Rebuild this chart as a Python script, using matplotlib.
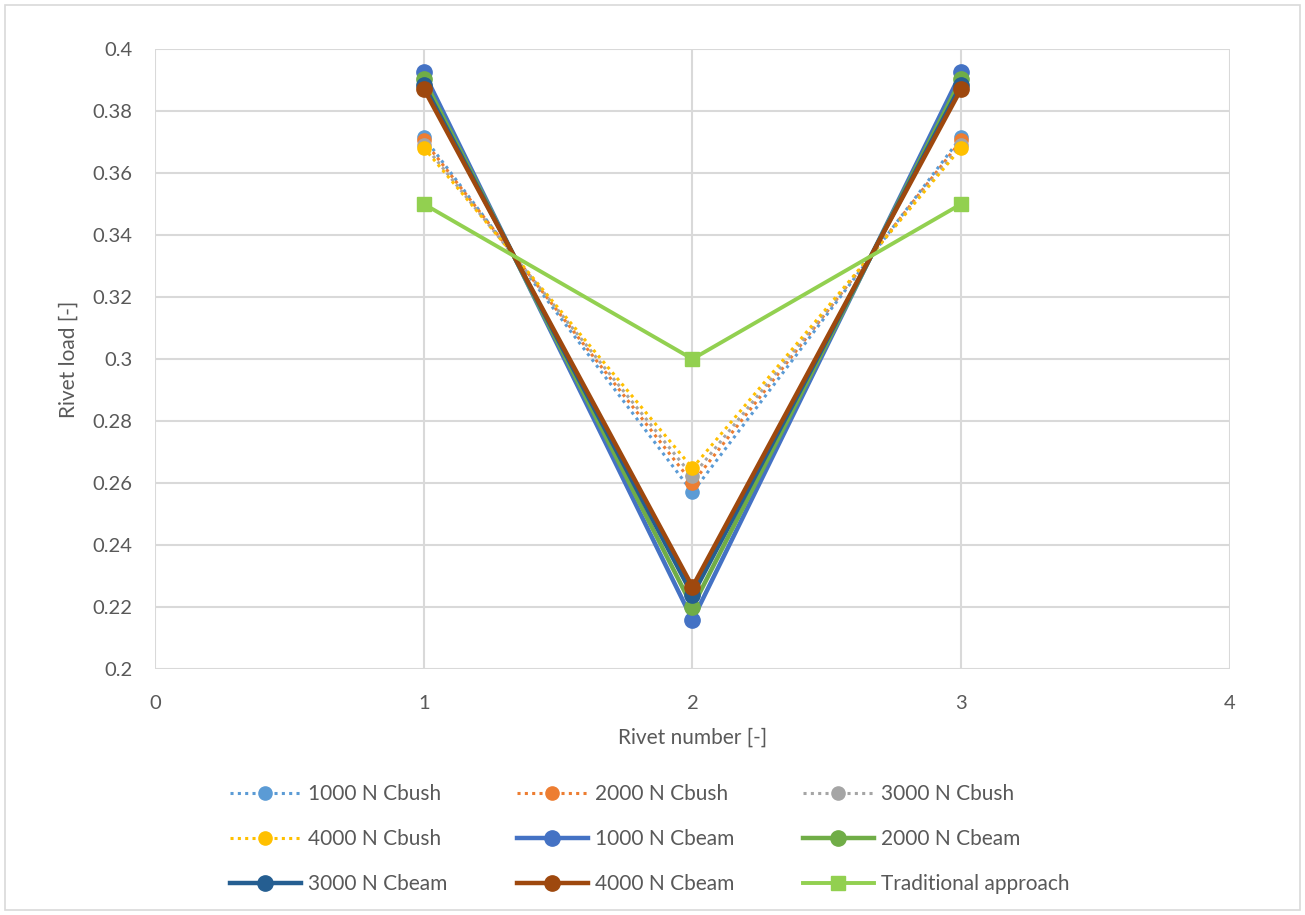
import matplotlib.pyplot as plt
from matplotlib.patches import Rectangle

plt.rcParams['font.family'] = ['Lato', 'DejaVu Sans']

# Data
rivets = [1, 2, 3]
bush_1000 = [0.3716, 0.2570, 0.3716]
bush_2000 = [0.3705, 0.2600, 0.3705]
bush_3000 = [0.3692, 0.2622, 0.3692]
bush_4000 = [0.3682, 0.2648, 0.3682]
beam_1000 = [0.3925, 0.2158, 0.3925]
beam_2000 = [0.3903, 0.2200, 0.3903]
beam_3000 = [0.3885, 0.2238, 0.3885]
beam_4000 = [0.3872, 0.2265, 0.3872]
traditional = [0.35, 0.30, 0.35]

fig = plt.figure(figsize=(13.05, 9.15), dpi=100)
ax = fig.add_axes([0.1188, 0.2689, 0.8237, 0.6775])

text_col = '#595959'
grid_col = '#d9d9d9'

# Cbush series (dotted)
bush = [(bush_1000, '#5b9bd5', '1000 N Cbush'),
        (bush_2000, '#ed7d31', '2000 N Cbush'),
        (bush_3000, '#a5a5a5', '3000 N Cbush'),
        (bush_4000, '#ffc000', '4000 N Cbush')]
handles = []
for vals, c, lab in bush:
    h, = ax.plot(rivets, vals, color=c, lw=2.2, ls=(0, (1, 1.4)), marker='o',
                 ms=9.5, mec=c, mfc=c, label=lab, zorder=3)
    handles.append(h)

# Cbeam series (solid)
beam = [(beam_1000, '#4472c4', '1000 N Cbeam'),
        (beam_2000, '#70ad47', '2000 N Cbeam'),
        (beam_3000, '#255e91', '3000 N Cbeam'),
        (beam_4000, '#9e480e', '4000 N Cbeam')]
for vals, c, lab in beam:
    h, = ax.plot(rivets, vals, color=c, lw=3.2, marker='o', ms=11,
                 mec=c, mfc=c, label=lab, zorder=4)
    handles.append(h)

h, = ax.plot(rivets, traditional, color='#92d050', lw=2.8, marker='s', ms=10,
             label='Traditional approach', zorder=5)
handles.append(h)

ax.set_xlim(0, 4)
ax.set_ylim(0.2, 0.4)
ax.set_xticks([0, 1, 2, 3, 4])
ax.set_yticks([0.2 + 0.02 * i for i in range(11)])
ax.set_yticklabels(['0.2', '0.22', '0.24', '0.26', '0.28', '0.3', '0.32',
                    '0.34', '0.36', '0.38', '0.4'])
ax.grid(True, color=grid_col, lw=1.5)
ax.set_axisbelow(True)
for s in ax.spines.values():
    s.set_visible(False)
ax.tick_params(length=0, labelsize=14.5, colors=text_col)
ax.tick_params(axis='y', pad=16)
ax.tick_params(axis='x', pad=19)
ax.set_xlabel('Rivet number [-]', fontsize=15, color=text_col, labelpad=11)
ax.set_ylabel('Rivet load [-]', fontsize=15, color=text_col, labelpad=10)

# one legend per column so the columns sit where the reference has them
col_x = [230, 517, 803]
for k in range(3):
    leg = fig.legend(handles=handles[k::3], loc='center left',
                     bbox_to_anchor=(col_x[k] / 1305, 1 - 839 / 915),
                     frameon=False, fontsize=15, handlelength=3.4,
                     handletextpad=0.33, labelspacing=1.2,
                     borderpad=0, borderaxespad=0)
    for t in leg.get_texts():
        t.set_color(text_col)

fig.patches.append(Rectangle((0.004, 0.005), 0.992, 0.99, transform=fig.transFigure,
                             fill=False, ec='#d9d9d9', lw=1.2))

fig.savefig('out.png', dpi=100, facecolor='white')
